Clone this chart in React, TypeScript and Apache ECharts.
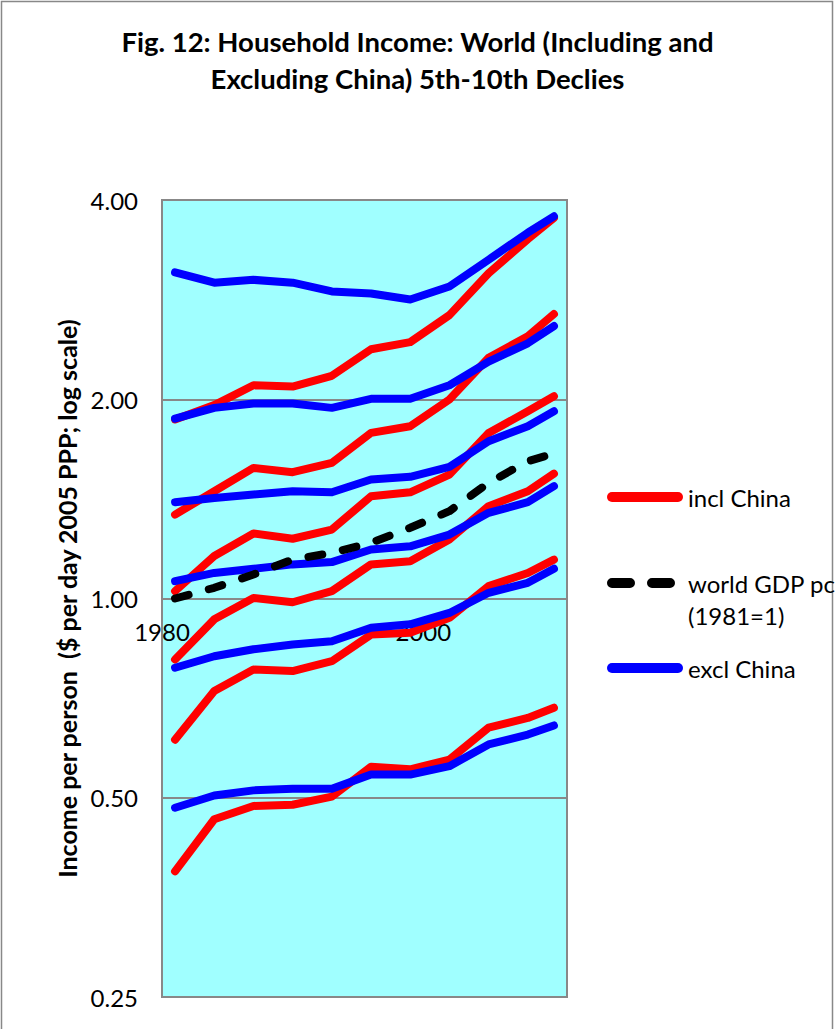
import React, { useEffect, useRef } from 'react';
import * as echarts from 'echarts';

const years = [1981, 1984, 1987, 1990, 1993, 1996, 1999, 2002, 2005, 2008, 2010];

const inclD5 = [0.387, 0.464, 0.486, 0.488, 0.502, 0.557, 0.552, 0.571, 0.638, 0.660, 0.684];
const inclD6 = [0.612, 0.725, 0.781, 0.777, 0.804, 0.882, 0.888, 0.935, 1.044, 1.093, 1.145];
const inclD7 = [0.809, 0.930, 1.002, 0.987, 1.026, 1.126, 1.138, 1.228, 1.379, 1.452, 1.544];
const inclD8 = [1.026, 1.159, 1.254, 1.231, 1.271, 1.427, 1.447, 1.539, 1.779, 1.918, 2.021];
const inclD9 = [1.339, 1.452, 1.575, 1.552, 1.603, 1.779, 1.821, 1.998, 2.31, 2.49, 2.69];
const inclD10 = [1.864, 1.96, 2.10, 2.09, 2.17, 2.38, 2.44, 2.68, 3.10, 3.49, 3.76];

const exclD5 = [0.483, 0.504, 0.513, 0.516, 0.516, 0.542, 0.542, 0.558, 0.602, 0.623, 0.643];
const exclD6 = [0.786, 0.818, 0.838, 0.852, 0.862, 0.903, 0.914, 0.951, 1.020, 1.056, 1.109];
const exclD7 = [1.062, 1.093, 1.109, 1.126, 1.135, 1.186, 1.199, 1.249, 1.347, 1.398, 1.478];
const exclD8 = [1.398, 1.419, 1.436, 1.452, 1.447, 1.513, 1.527, 1.581, 1.728, 1.821, 1.918];
const exclD9 = [1.869, 1.941, 1.970, 1.970, 1.941, 2.003, 2.003, 2.10, 2.28, 2.43, 2.58];
const exclD10 = [3.11, 3.00, 3.03, 3.00, 2.91, 2.89, 2.83, 2.96, 3.25, 3.57, 3.78];

const worldGdp = [1.00, 1.038, 1.087, 1.145, 1.172, 1.214, 1.279, 1.355, 1.495, 1.612, 1.656];

const inclSeries = [inclD5, inclD6, inclD7, inclD8, inclD9, inclD10];
const exclSeries = [exclD5, exclD6, exclD7, exclD8, exclD9, exclD10];

const yTicks = [0.25, 0.5, 1, 2, 4];
const xTickLabels = [1980, 2000];

const INCL = 'incl China';
const EXCL = 'excl China';
const GDP = 'world GDP pc (1981=1)';

const FONT = 'Lato, "Open Sans", sans-serif';

const solidIcon = 'path://M5,0 H71 A5,5 0 0 1 71,10 H5 A5,5 0 0 1 5,0 Z';
const dashIcon = 'path://M5,0 H23 A5,5 0 0 1 23,10 H5 A5,5 0 0 1 5,0 Z M45,0 H63 A5,5 0 0 1 63,10 H45 A5,5 0 0 1 45,0 Z M76,0 L76,10 L76,0 Z';

function toPairs(vals: number[]) {
  return years.map((y, i) => [y, vals[i]]);
}

export default function App() {
  const ref = useRef<HTMLDivElement>(null);
  useEffect(() => {
    document.body.style.margin = '0';
    if (!ref.current) return;
    const chart = echarts.init(ref.current, null, { renderer: 'svg' });
    const lineBase = (name: string, color: string, data: number[], z: number, dashed = false) => ({
      type: 'line',
      name,
      data: toPairs(data),
      symbol: 'none',
      showSymbol: false,
      z,
      lineStyle: {
        color,
        width: 8,
        cap: 'round',
        join: 'round',
        type: dashed ? [14, 21] : 'solid',
      },
      itemStyle: { color },
      emphasis: { disabled: true },
      silent: true,
    });
    const series: any[] = [];
    inclSeries.forEach((d) => series.push(lineBase(INCL, '#FF0000', d, 2)));
    exclSeries.forEach((d) => series.push(lineBase(EXCL, '#0000FF', d, 3)));
    series.push(lineBase(GDP, '#000000', worldGdp, 4, true));

    const legendText = { fontSize: 24, fontFamily: FONT, color: '#000', lineHeight: 30 };
    const legendBase = {
      orient: 'vertical',
      left: 607,
      padding: 0,
      itemWidth: 76,
      itemHeight: 10,
      symbolKeepAspect: false,
      itemStyle: { borderWidth: 0 },
      selectedMode: false,
    };

    chart.setOption({
      animation: false,
      backgroundColor: '#FFFFFF',
      title: {
        text: 'Fig. 12: Household Income: World (Including and\nExcluding China) 5th-10th Declies',
        left: 'center',
        top: 18,
        textStyle: {
          fontFamily: FONT,
          fontWeight: 'bold',
          fontSize: 27.5,
          lineHeight: 37,
          color: '#000',
        },
      },
      graphic: [
        {
          type: 'rect',
          shape: { x: 1.5, y: 1.5, width: 831, height: 1060 },
          style: { fill: 'none', stroke: '#888888', lineWidth: 1.5 },
          silent: true,
          z: -10,
        },
      ],
      legend: [
        { ...legendBase, top: 482, data: [{ name: INCL, icon: solidIcon }], textStyle: legendText },
        {
          ...legendBase,
          top: 583 - 48,
          data: [{ name: GDP, icon: dashIcon }],
          formatter: () => ' \nworld GDP pc\n(1981=1)',
          textStyle: { ...legendText, lineHeight: 32 },
        },
        { ...legendBase, top: 653, data: [{ name: EXCL, icon: solidIcon }], textStyle: legendText },
      ],
      grid: {
        left: 162,
        right: 268,
        top: 200,
        bottom: 32,
        show: true,
        backgroundColor: '#A0FFFF',
        borderColor: '#888888',
        borderWidth: 2,
        containLabel: false,
      },
      xAxis: {
        type: 'value',
        min: 1980,
        max: 2011,
        interval: 20,
        axisLine: { show: false },
        axisTick: { show: false },
        splitLine: { show: false },
        axisLabel: {
          showMaxLabel: false,
          margin: -366,
          verticalAlign: 'middle',
          fontSize: 24,
          fontFamily: FONT,
          color: '#000',
          formatter: (v: number) => (xTickLabels.includes(v) ? String(v) : ''),
        },
      },
      yAxis: {
        type: 'log',
        logBase: 2,
        min: yTicks[0],
        max: yTicks[yTicks.length - 1],
        name: 'Income per person  ($ per day 2005 PPP; log scale)',
        nameLocation: 'middle',
        nameRotate: 90,
        nameGap: 83,
        nameTextStyle: {
          fontFamily: FONT,
          fontWeight: 'bold',
          fontSize: 25,
          color: '#000',
        },
        axisLine: { show: false },
        axisTick: { show: false },
        splitLine: { show: true, lineStyle: { color: '#888888', width: 2 } },
        axisLabel: {
          margin: 24,
          fontSize: 24,
          fontFamily: FONT,
          color: '#000',
          formatter: (v: number) => v.toFixed(2),
        },
      },
      series,
    });
    return () => chart.dispose();
  }, []);
  return <div ref={ref} style={{ width: 835, height: 1029 }} />;
}
